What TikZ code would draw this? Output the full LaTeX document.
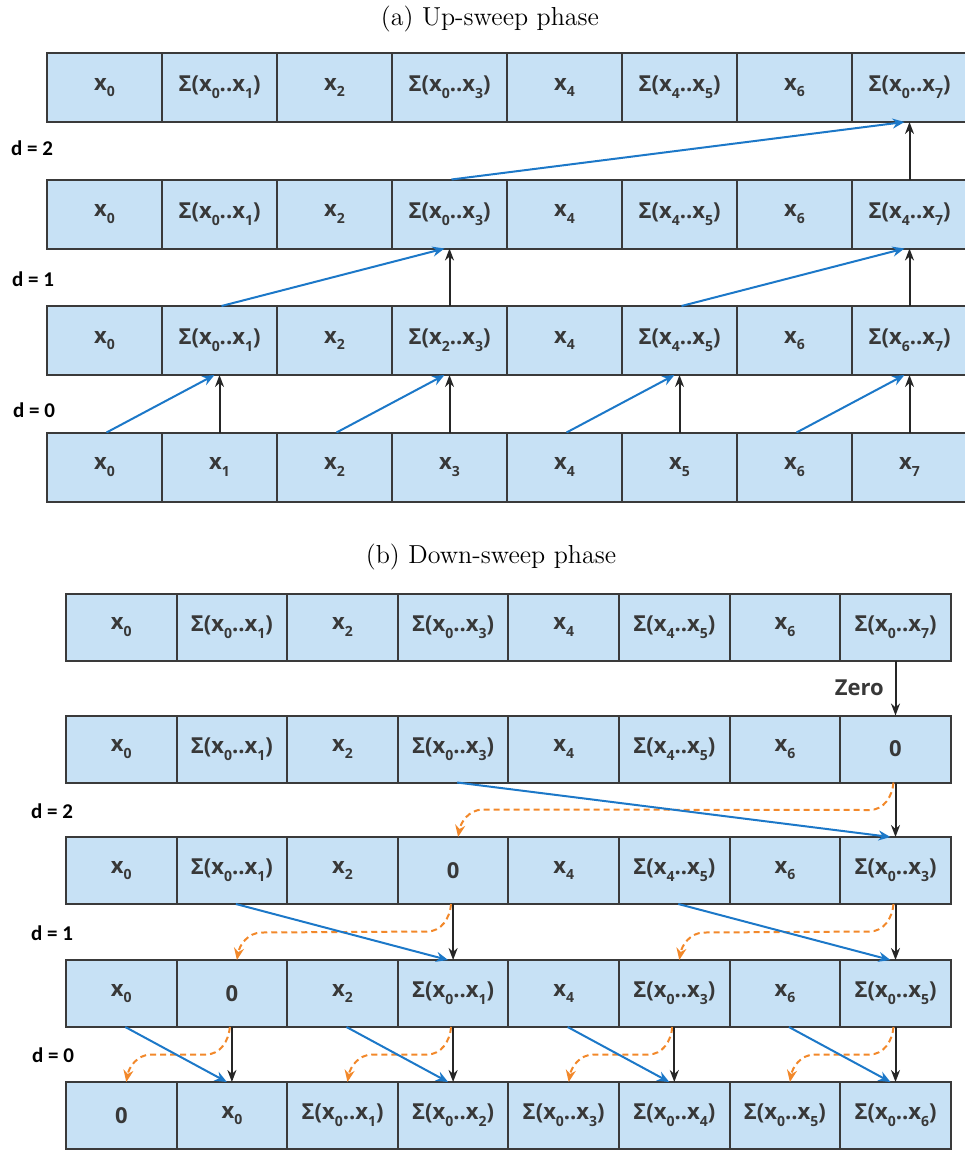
\documentclass[tikz,border=0pt]{standalone}
\usepackage{fontspec}
\usetikzlibrary{arrows.meta}
\newfontfamily\cellfont{Open Sans}
\newfontfamily\labelfont{Carlito}
\definecolor{cellblue}{HTML}{C7E1F5}
\definecolor{cellline}{HTML}{3A3A3A}
\definecolor{sumblue}{HTML}{1C78C8}
\definecolor{swaporange}{HTML}{F2882A}
\newcommand{\xsub}[1]{x\raisebox{-0.55ex}{\fontsize{7}{8}\selectfont #1}}
\newcommand{\ssum}[2]{Σ(\xsub{#1}..\xsub{#2})}
\begin{document}
\begin{tikzpicture}[x=0.5pt,y=-0.5pt,
    cell/.style={draw=cellline,fill=cellblue,line width=1pt,outer sep=0pt,inner sep=0pt,
      text=black!78,font=\cellfont\bfseries\fontsize{11}{13}\selectfont},
    cellA/.style={cell,minimum width=57.5pt,minimum height=34.5pt},
    cellB/.style={cell,minimum width=55.3pt,minimum height=33.5pt},
    sumarrow/.style={draw=sumblue,line width=1pt,-{Stealth[length=6pt,width=5pt]}},
    passarrow/.style={draw=black!85,line width=1pt,-{Stealth[length=6pt,width=4.5pt]}},
    swaparrow/.style={draw=swaporange,line width=1pt,dash pattern=on 3pt off 2pt,-{Stealth[length=6pt,width=5pt]}},
    dlabel/.style={font=\labelfont\bfseries\fontsize{10.5}{12}\selectfont},
    caption/.style={font=\fontsize{13}{15}\selectfont}]
  \useasboundingbox (0,0) rectangle (964,1151);

  % (a) up-sweep
  \node[caption] (capA) at (490,19) {(a) Up-sweep phase};
  \foreach \t [count=\i from 0] in {\xsub{0},\ssum{0}{1},\xsub{2},\ssum{0}{3},\xsub{4},\ssum{4}{5},\xsub{6},\ssum{0}{7}}
    \node[cellA] (u1c\i) at ({104.5+115*\i},87.5) {\t};
  \foreach \t [count=\i from 0] in {\xsub{0},\ssum{0}{1},\xsub{2},\ssum{0}{3},\xsub{4},\ssum{4}{5},\xsub{6},\ssum{4}{7}}
    \node[cellA] (u2c\i) at ({104.5+115*\i},214) {\t};
  \foreach \t [count=\i from 0] in {\xsub{0},\ssum{0}{1},\xsub{2},\ssum{2}{3},\xsub{4},\ssum{4}{5},\xsub{6},\ssum{6}{7}}
    \node[cellA] (u3c\i) at ({104.5+115*\i},340.5) {\t};
  \foreach \i in {0,...,7}
    \node[cellA] (u4c\i) at ({104.5+115*\i},467) {\xsub{\i}};

  \node[dlabel] (ud2) at (32,148) {d = 2};
  \node[dlabel] (ud1) at (33,279) {d = 1};
  \node[dlabel] (ud0) at (34,410) {d = 0};

  \foreach \j/\k in {1/0,3/2,5/4,7/6} {
    \draw[passarrow] (u4c\j.north) -- (u3c\j.south);
    \draw[sumarrow] ([xshift=1pt]u4c\k.north) -- ([xshift=-2.5pt]u3c\j.south);
  }
  \foreach \j/\k in {3/1,7/5} {
    \draw[passarrow] (u3c\j.north) -- (u2c\j.south);
    \draw[sumarrow] ([xshift=1pt]u3c\k.north) -- ([xshift=-2.5pt]u2c\j.south);
  }
  \draw[passarrow] (u2c7.north) -- (u1c7.south);
  \draw[sumarrow] ([xshift=1pt]u2c3.north) -- ([xshift=-2.5pt]u1c7.south);

  % (b) down-sweep
  \node[caption] (capB) at (491,557) {(b) Down-sweep phase};
  \foreach \t [count=\i from 0] in {\xsub{0},\ssum{0}{1},\xsub{2},\ssum{0}{3},\xsub{4},\ssum{4}{5},\xsub{6},\ssum{0}{7}}
    \node[cellB] (dn1c\i) at ({121.3+110.6*\i},627) {\t};
  \foreach \t [count=\i from 0] in {\xsub{0},\ssum{0}{1},\xsub{2},\ssum{0}{3},\xsub{4},\ssum{4}{5},\xsub{6},0}
    \node[cellB] (dn2c\i) at ({121.3+110.6*\i},749) {\t};
  \foreach \t [count=\i from 0] in {\xsub{0},\ssum{0}{1},\xsub{2},0,\xsub{4},\ssum{4}{5},\xsub{6},\ssum{0}{3}}
    \node[cellB] (dn3c\i) at ({121.3+110.6*\i},870.5) {\t};
  \foreach \t [count=\i from 0] in {\xsub{0},0,\xsub{2},\ssum{0}{1},\xsub{4},\ssum{0}{3},\xsub{6},\ssum{0}{5}}
    \node[cellB] (dn4c\i) at ({121.3+110.6*\i},993.5) {\t};
  \foreach \t [count=\i from 0] in {0,\xsub{0},\ssum{0}{1},\ssum{0}{2},\ssum{0}{3},\ssum{0}{4},\ssum{0}{5},\ssum{0}{6}}
    \node[cellB] (dn5c\i) at ({121.3+110.6*\i},1115.5) {\t};

  \node[dlabel] (dd2) at (52,811) {d = 2};
  \node[dlabel] (dd1) at (52,933) {d = 1};
  \node[dlabel] (dd0) at (53,1055) {d = 0};

  \draw[passarrow] (dn1c7.south) -- (dn2c7.north)
    node[midway,left=2pt,font=\cellfont\bfseries\fontsize{11}{13}\selectfont,text=black!78] (zero) {Zero};

  \draw[swaparrow] ([xshift=-1pt]dn2c7.south) to[out=-95,in=0] ++(-12pt,-13.75pt)
    -- ([xshift=15pt,yshift=13.75pt]dn3c3.north) to[out=180,in=80] ([xshift=2.5pt]dn3c3.north);
  \draw[passarrow] (dn2c7.south) -- (dn3c7.north);
  \draw[sumarrow] ([xshift=2pt]dn2c3.south) -- ([xshift=-2.5pt]dn3c7.north);

  \foreach \j/\k in {3/1,7/5} {
    \draw[swaparrow] ([xshift=-1pt]dn3c\j.south) to[out=-95,in=0] ++(-12pt,-13.75pt)
      -- ([xshift=15pt,yshift=13.75pt]dn4c\k.north) to[out=180,in=80] ([xshift=2.5pt]dn4c\k.north);
    \draw[passarrow] (dn3c\j.south) -- (dn4c\j.north);
    \draw[sumarrow] ([xshift=2pt]dn3c\k.south) -- ([xshift=-2.5pt]dn4c\j.north);
  }
  \foreach \j/\k in {1/0,3/2,5/4,7/6} {
    \draw[swaparrow] ([xshift=-1pt]dn4c\j.south) to[out=-95,in=0] ++(-12pt,-13.75pt)
      -- ([xshift=15pt,yshift=13.75pt]dn5c\k.north) to[out=180,in=80] ([xshift=2.5pt]dn5c\k.north);
    \draw[passarrow] (dn4c\j.south) -- (dn5c\j.north);
    \draw[sumarrow] ([xshift=2pt]dn4c\k.south) -- ([xshift=-2.5pt]dn5c\j.north);
  }
\end{tikzpicture}
\end{document}
